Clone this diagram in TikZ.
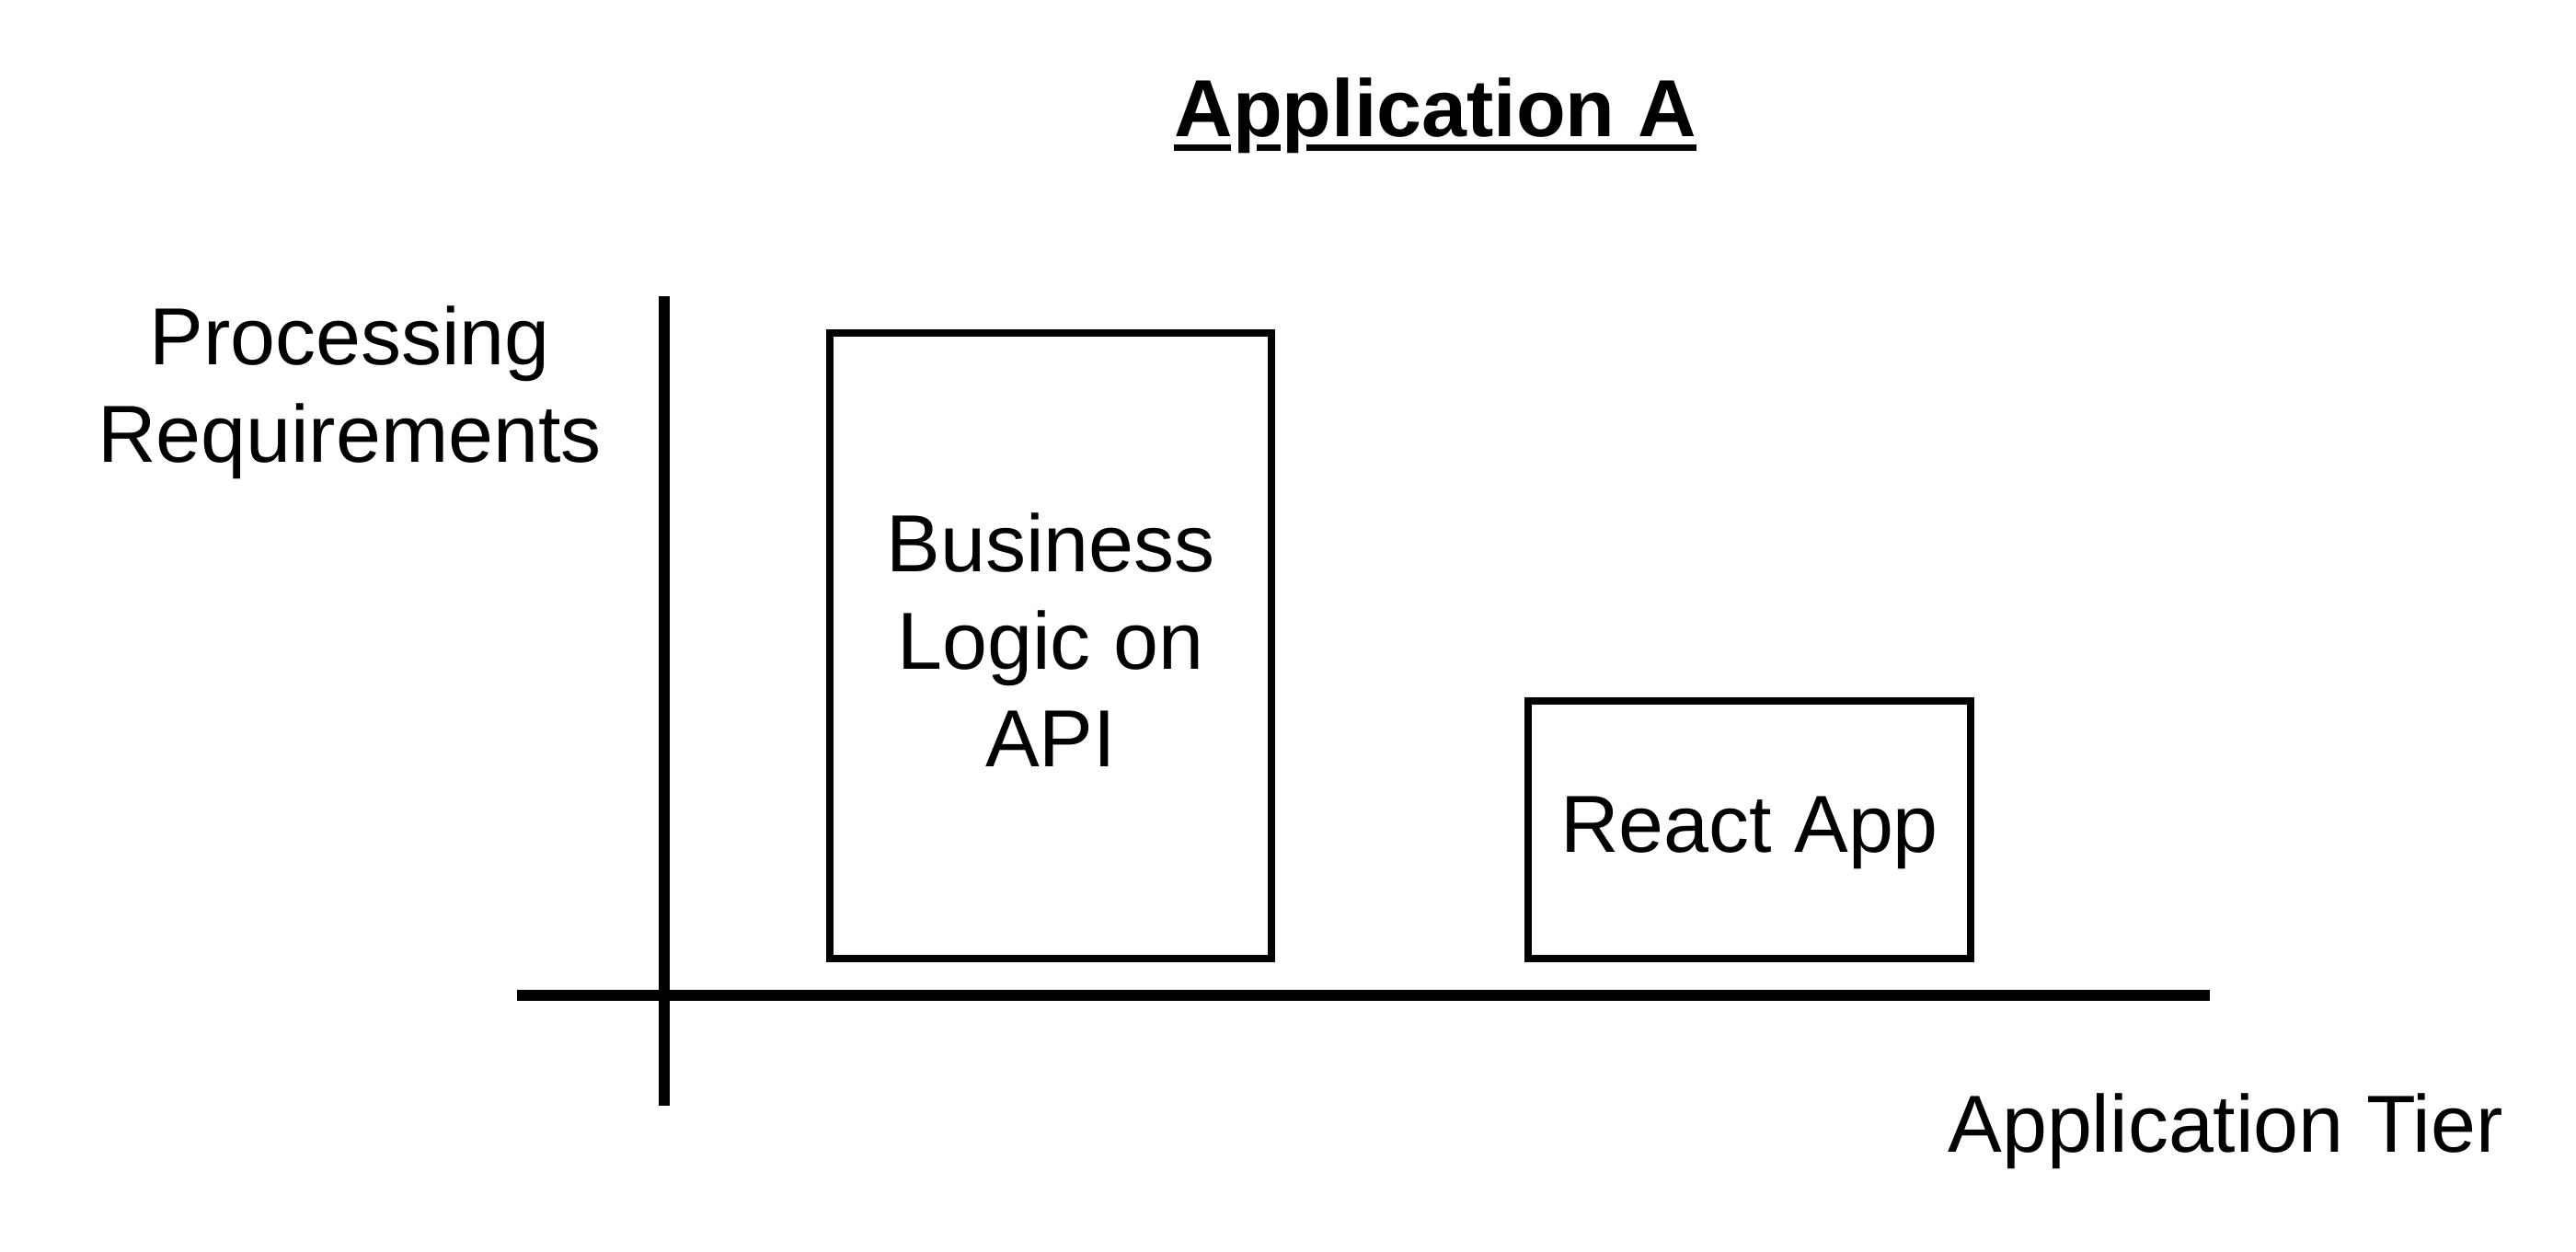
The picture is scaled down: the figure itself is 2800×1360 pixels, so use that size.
\documentclass[tikz,border=0pt]{standalone}
\usepackage{fontspec}
\setmainfont{Liberation Sans}
\usetikzlibrary{backgrounds}
\begin{document}
\begin{tikzpicture}[x=0.25pt,y=-0.25pt,
  every node/.style={font=\fontsize{22pt}{26.5pt}\selectfont, inner sep=0pt, outer sep=0pt},
  axis/.style={line width=3pt, draw=black},
  bar/.style={draw=black, line width=2pt, rectangle, align=center},
  lbl/.style={align=center, text=black},
  titlestyle/.style={font=\fontsize{22pt}{26.5pt}\selectfont\bfseries}]
\useasboundingbox (0,0) rectangle (2800,1360);
% title
\node[titlestyle, anchor=base] (title) at (1560,148) {Application A};
\begin{scope}[on background layer]
  \fill[white] (0,0) rectangle (2800,1360);
  \draw[line width=1.9pt] ([yshift=-3.1pt]title.base west) -- ([yshift=-3.1pt]title.base east);
  \fill[white] ([xshift=15.5pt,yshift=-1.5pt]title.base west) rectangle ([xshift=22.5pt,yshift=-5pt]title.base west);
  \fill[white] ([xshift=29pt,yshift=-1.5pt]title.base west) rectangle ([xshift=36pt,yshift=-5pt]title.base west);
\end{scope}
% axes
\coordinate (ytop) at (722,322);
\coordinate (ybot) at (722,1202);
\coordinate (xleft) at (562,1082);
\coordinate (xright) at (2402,1082);
\draw[axis] (ytop) -- (ybot);
\draw[axis] (xleft) -- (xright);
% axis labels
\node[lbl] (ylabel) at (380,427) {Processing\\Requirements};
\node[lbl, anchor=base] (xlabel) at (2419,1252) {Application Tier};
% bars
\node[bar, minimum width=120pt, minimum height=170pt, text depth=3pt] (api) at (1142,702) {Business\\Logic on\\API};
\node[bar, minimum width=120.25pt, minimum height=70pt, text depth=3pt] (react) at (1901.5,902) {React App};
\end{tikzpicture}
\end{document}
